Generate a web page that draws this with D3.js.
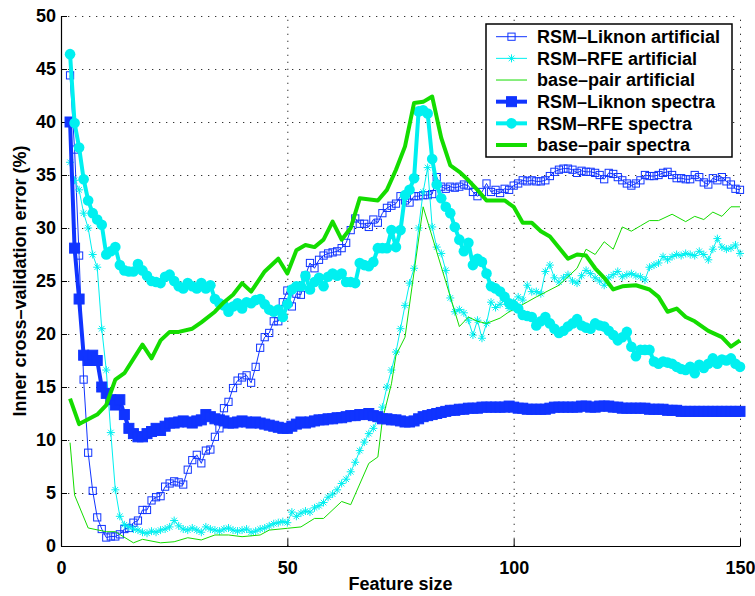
<!DOCTYPE html>
<html>
<head>
<meta charset="utf-8">
<script src="https://cdn.jsdelivr.net/npm/d3@7"></script>
<style>
    body { margin: 0; background: #fff; }
    svg text { font-family: "Liberation Sans", Arial, Helvetica, sans-serif; font-weight: bold; fill: #000; }
</style>
</head>
<body>
<div id="chart"></div>
<script>
// feature sizes for the marker series (one value per size, 2..150)
const featureSize = d3.range(2, 151);

const liknonArtificial = [
    44.4, 37.4, 27.4, 15.7, 8.8, 5.2, 2.7, 1.6, 0.8, 0.9,
    0.9, 1.1, 1.6, 1.7, 2.2, 2.4, 3.4, 3.4, 4.3, 4.6,
    4.7, 5.6, 5.9, 6.1, 6.0, 5.8, 7.2, 8.1, 8.6, 7.8,
    9.0, 9.1, 10.3, 11.1, 13.0, 13.6, 14.9, 15.6, 15.9, 16.1,
    15.4, 16.9, 18.7, 19.7, 20.1, 21.2, 21.2, 23.0, 24.1, 22.6,
    23.8, 23.7, 25.5, 26.7, 26.2, 27.0, 27.4, 27.6, 27.7, 27.8,
    28.1, 28.6, 29.8, 30.9, 30.4, 30.4, 30.1, 30.8, 30.5, 31.4,
    31.9, 32.1, 32.3, 33.0, 32.6, 32.4, 33.0, 33.0, 33.1, 33.1,
    33.2, 34.8, 33.9, 33.7, 33.9, 33.8, 33.9, 34.1, 34.0, 33.4,
    33.0, 33.4, 34.2, 33.4, 33.6, 33.3, 33.7, 33.6, 34.0, 34.2,
    34.5, 34.4, 34.5, 34.4, 34.4, 34.5, 34.9, 35.3, 35.5, 35.6,
    35.6, 35.5, 35.2, 35.4, 35.3, 35.3, 35.2, 35.0, 34.6, 35.2,
    35.1, 34.8, 34.5, 34.2, 34.0, 34.2, 34.5, 35.0, 34.9, 34.9,
    35.0, 35.2, 35.3, 35.0, 34.7, 34.7, 34.6, 34.6, 35.0, 34.8,
    34.3, 34.1, 34.7, 34.5, 34.8, 34.4, 34.1, 33.7, 33.6
];

const rfeArtificial = [
    36.2, 34.5, 33.6, 31.4, 30.0, 27.5, 26.3, 20.5, 16.6, 10.7,
    5.3, 2.8, 2.0, 1.8, 1.6, 1.5, 1.3, 1.2, 1.4, 1.3,
    1.5, 1.6, 1.8, 2.4, 1.9, 1.6, 1.5, 1.7, 1.5, 1.3,
    1.8, 1.6, 1.5, 1.4, 1.6, 1.7, 1.5, 1.4, 1.5, 1.6,
    1.3, 1.4, 1.6, 1.7, 1.9, 2.1, 2.2, 2.3, 2.2, 3.2,
    2.8, 3.1, 3.3, 3.2, 3.6, 3.8, 4.1, 4.6, 4.9, 5.3,
    5.9, 6.3, 7.0, 7.9, 9.0, 9.8, 10.6, 11.1, 12.0, 13.1,
    15.0, 16.6, 18.3, 20.5, 22.7, 24.8, 26.2, 30.0, 33.4, 35.7,
    30.1, 28.2, 27.6, 26.0, 23.4, 22.1, 22.3, 22.0, 21.3, 19.9,
    21.3, 19.6, 21.0, 23.0, 22.5, 22.8, 23.2, 22.4, 23.0, 23.5,
    23.2, 24.6, 24.0, 24.0, 23.8, 25.9, 26.5, 25.3, 24.9, 25.3,
    25.6, 25.0, 24.8, 25.5, 26.0, 25.7, 25.3, 25.0, 24.6, 25.3,
    25.6, 25.9, 25.4, 25.6, 25.7, 25.5, 25.4, 25.1, 26.3, 26.5,
    26.7, 27.3, 27.0, 27.3, 27.5, 27.4, 27.6, 27.5, 27.4, 27.8,
    27.5, 27.0, 28.0, 29.0, 28.2, 28.0, 28.1, 28.4, 27.6
];

const liknonSpectra = [
    40.0, 28.1, 23.3, 18.0, 17.5, 18.0, 17.5, 15.0, 14.4, 13.8,
    13.3, 13.8, 12.4, 11.1, 10.6, 10.3, 10.3, 10.6, 10.8, 11.1,
    10.9, 11.3, 11.6, 11.6, 11.7, 11.8, 11.7, 11.6, 11.8, 11.9,
    12.4, 12.2, 12.0, 11.9, 11.8, 11.6, 11.6, 11.7, 11.8, 11.7,
    11.6, 11.7, 11.6, 11.5, 11.4, 11.3, 11.2, 11.1, 11.1, 11.3,
    11.5, 11.7, 11.6, 11.7, 11.8, 11.9, 11.9, 12.0, 12.0, 12.1,
    12.1, 12.2, 12.3, 12.3, 12.4, 12.4, 12.5, 12.3, 12.2, 12.0,
    12.0, 11.9, 11.9, 11.8, 11.7, 11.7, 11.8, 12.0, 12.2, 12.3,
    12.4, 12.5, 12.6, 12.7, 12.8, 12.8, 12.9, 12.9, 13.0, 13.0,
    13.0, 13.1, 13.1, 13.1, 13.1, 13.1, 13.1, 13.2, 13.1, 13.0,
    13.0, 12.9, 12.9, 12.9, 12.9, 12.9, 13.0, 13.1, 13.1, 13.1,
    13.1, 13.1, 13.1, 13.2, 13.2, 13.1, 13.1, 13.2, 13.2, 13.2,
    13.1, 13.1, 13.0, 13.0, 13.0, 13.0, 13.0, 13.0, 12.9, 12.9,
    12.9, 12.9, 12.8, 12.8, 12.8, 12.7, 12.7, 12.7, 12.7, 12.7,
    12.7, 12.7, 12.7, 12.7, 12.7, 12.7, 12.7, 12.7, 12.7
];

const rfeSpectra = [
    46.4, 39.9, 37.6, 34.6, 32.6, 31.4, 30.8, 30.3, 27.5, 27.8,
    28.2, 26.5, 26.0, 25.9, 25.9, 26.6, 26.0, 25.5, 25.0, 24.9,
    24.8, 25.4, 25.6, 25.0, 24.5, 24.3, 24.8, 24.5, 24.3, 24.8,
    24.3, 24.6, 23.3, 22.9, 22.7, 22.1, 22.6, 22.9, 22.4, 23.0,
    22.9, 23.2, 23.3, 22.8, 22.3, 22.1, 22.3, 21.6, 22.8, 24.2,
    24.5, 24.5, 25.5, 24.2, 24.9, 25.3, 24.5, 25.4, 25.7, 25.5,
    25.7, 24.9, 24.9, 24.8, 26.7, 26.5, 26.4, 26.8, 28.1, 28.1,
    28.1, 29.8, 28.2, 29.8, 33.1, 33.6, 34.7, 41.0, 41.1, 40.8,
    36.5, 34.1, 32.8, 32.0, 31.4, 30.1, 28.9, 27.8, 28.6, 26.5,
    27.1, 26.8, 25.7, 24.5, 24.3, 24.0, 23.5, 22.9, 22.7, 22.4,
    21.8, 21.7, 21.6, 20.8, 21.2, 21.6, 21.0, 20.5, 20.1, 20.3,
    20.7, 21.0, 21.4, 20.8, 20.6, 20.5, 21.0, 20.8, 20.7, 20.3,
    19.9, 19.4, 19.7, 20.2, 18.8, 17.9, 18.5, 18.5, 18.5, 17.4,
    17.2, 17.4, 17.3, 17.2, 16.9, 16.7, 16.6, 16.9, 16.3, 17.1,
    16.8, 17.2, 17.7, 17.2, 17.6, 17.5, 17.7, 17.2, 16.9
];

// base-pair curves have no markers, only their corner points are listed
const bpArtificialSize = [2, 3, 6, 10, 12, 16, 18, 22, 25, 28, 31, 34, 37, 40, 44, 46, 50, 53, 56, 58,
    62, 64, 68, 70, 71, 73, 74, 76, 80, 88, 90, 92, 94, 97, 99, 100, 105, 110, 114, 116,
    118, 120, 122, 124, 126, 128, 130, 132, 135, 138, 140, 142, 144, 146, 148, 150];
const bpArtificialErr = [9.75, 4.8, 1.7, 1.35, 1.35, 0.3, 0.63, 0.3, 0.4, 0.78, 0.57, 1.04, 1.04, 0.88, 1.04, 1.5, 1.67, 1.8, 2.6, 2.6,
    4.2, 3.9, 7.8, 8.4, 11.9, 15.3, 18.0, 19.7, 32.0, 20.7, 21.6, 21.2, 21.0, 21.5, 22.1, 22.3, 23.5, 24.6, 26.2, 28.0,
    27.5, 28.7, 28.0, 30.1, 29.7, 30.2, 30.7, 30.7, 31.3, 30.6, 31.1, 30.8, 31.5, 31.1, 32.0, 32.0];

const bpSpectraSize = [2, 4, 8, 10, 12, 14, 18, 20, 22, 24, 26, 29, 31, 34, 36, 38, 40, 42, 45, 48,
    50, 52, 54, 56, 58, 60, 62, 64, 66, 70, 72, 74, 76, 78, 80, 82, 84, 86, 88, 90,
    92, 94, 96, 98, 100, 102, 104, 106, 108, 112, 114, 116, 118, 120, 122, 124, 127, 130, 132, 134,
    136, 138, 140, 143, 146, 148, 150];
const bpSpectraErr = [13.9, 11.5, 12.4, 13.3, 15.7, 16.3, 19.0, 17.7, 19.4, 20.2, 20.2, 20.5, 21.1, 22.1, 23.0, 23.7, 24.8, 24.0, 25.9, 27.1,
    25.7, 27.9, 28.4, 28.2, 28.9, 30.6, 28.9, 30.0, 32.8, 32.6, 33.6, 35.5, 37.7, 41.8, 41.9, 42.4, 38.5, 35.9, 35.3, 34.5,
    33.6, 32.6, 32.6, 32.6, 32.0, 30.5, 30.5, 29.7, 29.2, 27.1, 27.5, 27.4, 26.2, 25.3, 24.2, 24.5, 24.6, 24.2, 23.5, 22.1,
    22.4, 21.6, 21.2, 20.3, 19.7, 18.8, 19.4];

const seriesNames = ["RSM\u2013Liknon artificial", "RSM\u2013RFE artificial", "base\u2013pair artificial",
    "RSM\u2013Liknon spectra", "RSM\u2013RFE spectra", "base\u2013pair spectra"];
const yTicks = [0, 5, 10, 15, 20, 25, 30, 35, 40, 45, 50];
const xTicks = [0, 50, 100, 150];

const blue = "#1034ff", cyan = "#00f0f0", green = "#14dc00";

const zip = (xs, ys) => xs.map((x, i) => ({x: x, y: ys[i]}));

const series = [
    {name: seriesNames[0], values: zip(featureSize, liknonArtificial), color: blue, width: 1, marker: "squareOpen"},
    {name: seriesNames[1], values: zip(featureSize, rfeArtificial), color: cyan, width: 1, marker: "star"},
    {name: seriesNames[2], values: zip(bpArtificialSize, bpArtificialErr), color: green, width: 1, marker: null},
    {name: seriesNames[3], values: zip(featureSize, liknonSpectra), color: blue, width: 4, marker: "square"},
    {name: seriesNames[4], values: zip(featureSize, rfeSpectra), color: cyan, width: 4, marker: "circle"},
    {name: seriesNames[5], values: zip(bpSpectraSize, bpSpectraErr), color: green, width: 4, marker: null}
];

const size = {width: 755, height: 596};
const margin = {top: 16, right: 15, bottom: 50, left: 61};
const width = size.width - margin.left - margin.right;
const height = size.height - margin.top - margin.bottom;

const svg = d3.select("#chart").append("svg")
    .attr("width", size.width)
    .attr("height", size.height)
;
const g = svg.append("g")
    .attr("transform", "translate(" + margin.left + "," + margin.top + ")")
;

const xScale = d3.scaleLinear().domain([0, 150]).range([0, width]);
const yScale = d3.scaleLinear().domain([0, 50]).range([height, 0]);

// dotted grid
g.append("g")
    .attr("class", "gridY")
    .call(d3.axisLeft(yScale).tickValues(yTicks).tickSize(-width).tickFormat(""))
;
g.append("g")
    .attr("class", "gridX")
    .attr("transform", "translate(0," + height + ")")
    .call(d3.axisBottom(xScale).tickValues(xTicks).tickSize(-height).tickFormat(""))
;
g.selectAll(".gridY .domain, .gridX .domain").remove();
g.selectAll(".gridY line, .gridX line")
    .attr("stroke", "#333")
    .attr("stroke-width", 1)
    .attr("stroke-dasharray", "1.3,5.7")
;

// axes with inward ticks
const yAxisG = g.append("g")
    .attr("class", "yAxisG")
    .call(d3.axisLeft(yScale).tickValues(yTicks).tickSizeInner(-6).tickSizeOuter(0).tickPadding(5))
;
const xAxisG = g.append("g")
    .attr("class", "xAxisG")
    .attr("transform", "translate(0," + height + ")")
    .call(d3.axisBottom(xScale).tickValues(xTicks).tickSizeInner(-7).tickSizeOuter(0).tickPadding(15))
;
[yAxisG, xAxisG].forEach(a => {
    a.select(".domain").attr("stroke", "#000").attr("stroke-width", 1.2);
    a.selectAll(".tick line").attr("stroke", "#000").attr("stroke-width", 1);
    a.selectAll(".tick text").style("font-size", "18px").attr("fill", "#000");
});
g.selectAll(".gridY .tick:first-child, .gridX .tick:first-child").remove();

// markers
const starPath = (s) => {
    const a = s * 0.7;
    return `M${-s},0H${s}M0,${-s}V${s}M${-a},${-a}L${a},${a}M${-a},${a}L${a},${-a}`;
};

function drawMarkers(sel, s) {
    if (s.marker === "squareOpen") {
        sel.append("rect")
            .attr("x", -3.6).attr("y", -3.6).attr("width", 7.2).attr("height", 7.2)
            .attr("fill", "none").attr("stroke", s.color).attr("stroke-width", 1);
    } else if (s.marker === "square") {
        sel.append("rect")
            .attr("x", -5).attr("y", -5).attr("width", 10).attr("height", 10)
            .attr("fill", s.color).attr("stroke", s.color).attr("stroke-width", 1);
    } else if (s.marker === "circle") {
        sel.append("circle")
            .attr("r", 5.3)
            .attr("fill", s.color);
    } else if (s.marker === "star") {
        sel.append("path")
            .attr("d", starPath(4))
            .attr("fill", "none").attr("stroke", s.color).attr("stroke-width", 1);
    }
}

const line = d3.line().x(d => xScale(d.x)).y(d => yScale(d.y));

const seriesG = g.selectAll(".seriesG")
    .data(series)
    .join("g")
    .attr("class", "seriesG")
;
seriesG.each(function (s) {
    const sg = d3.select(this);
    sg.append("path")
        .attr("d", line(s.values))
        .attr("fill", "none")
        .attr("stroke", s.color)
        .attr("stroke-width", s.width)
        .attr("stroke-linejoin", "round")
    ;
    if (s.marker) {
        sg.selectAll(".markerG")
            .data(s.values)
            .join("g")
            .attr("class", "markerG")
            .attr("transform", d => `translate(${xScale(d.x)},${yScale(d.y)})`)
            .each(function () { drawMarkers(d3.select(this), s); })
        ;
    }
});

// axis labels
svg.append("text")
    .attr("x", margin.left + width / 2)
    .attr("y", 590)
    .attr("text-anchor", "middle")
    .style("font-size", "18px")
    .text("Feature size")
;
svg.append("text")
    .attr("transform", `translate(26,${margin.top + height / 2}) rotate(-90)`)
    .attr("text-anchor", "middle")
    .style("font-size", "18px")
    .text("Inner cross\u2013validation error (%)")
;

// legend
const legend = svg.append("g")
    .attr("class", "legendG")
    .attr("transform", "translate(486,24)")
;
legend.append("rect")
    .attr("width", 246)
    .attr("height", 133)
    .attr("fill", "#fff")
    .attr("stroke", "#000")
    .attr("stroke-width", 1.5)
;
const rowG = legend.selectAll(".legendRow")
    .data(series)
    .join("g")
    .attr("class", "legendRow")
    .attr("transform", (d, i) => `translate(0,${12.7 + i * 21.66})`)
;
rowG.append("line")
    .attr("x1", 10).attr("x2", 41)
    .attr("stroke", d => d.color)
    .attr("stroke-width", d => d.width)
;
rowG.each(function (s) {
    if (s.marker) {
        const m = d3.select(this).append("g").attr("transform", "translate(25.5,0)");
        drawMarkers(m, s);
    }
});
rowG.append("text")
    .attr("x", 51)
    .attr("dy", "0.35em")
    .style("font-size", "18px")
    .text(d => d.name)
;
</script>
</body>
</html>
